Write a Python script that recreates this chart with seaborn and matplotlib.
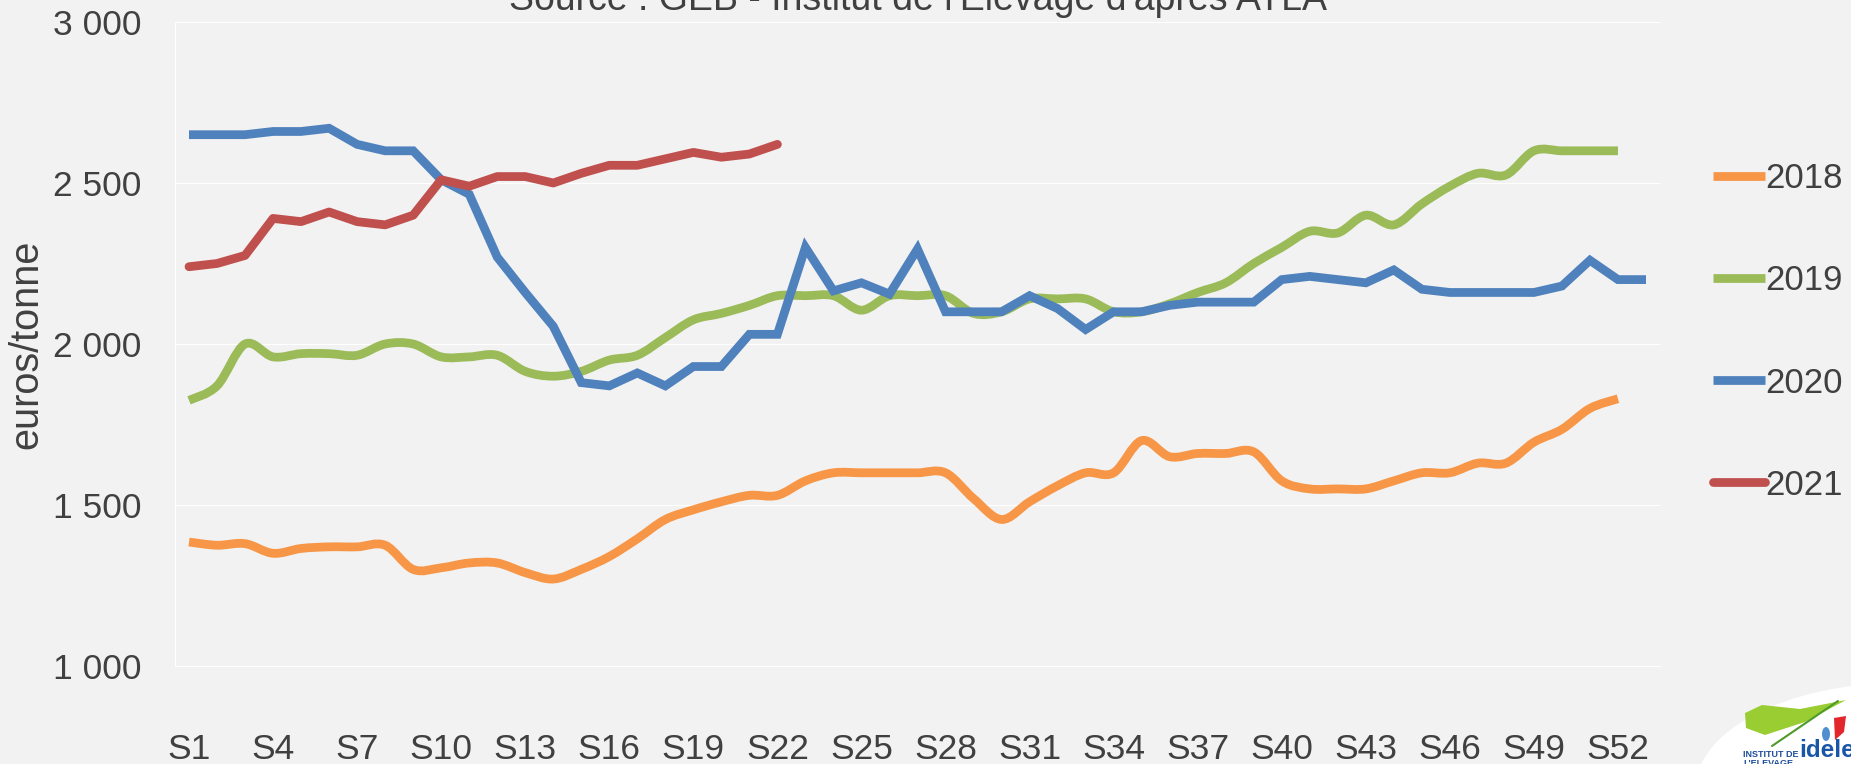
import numpy as np
import matplotlib
matplotlib.use("Agg")
import matplotlib.pyplot as plt
import seaborn as sns

from matplotlib.path import Path
from matplotlib.patches import PathPatch, Ellipse, Polygon
from matplotlib.lines import Line2D


# Weekly prices (euros/tonne)
weeks = [f"S{i}" for i in range(1, 54)]

prix_2018 = [1385, 1375, 1380, 1350, 1365, 1370, 1370, 1375, 1300, 1305,
             1320, 1320, 1290, 1270, 1300, 1340, 1395, 1455, 1485, 1510,
             1530, 1530, 1575, 1600, 1600, 1600, 1600, 1600, 1520, 1455,
             1510, 1560, 1600, 1600, 1700, 1650, 1660, 1660, 1665, 1575,
             1550, 1550, 1550, 1575, 1600, 1600, 1630, 1630, 1695, 1735,
             1800, 1830]

prix_2019 = [1825, 1870, 2000, 1960, 1970, 1970, 1965, 2000, 2000, 1960,
             1960, 1965, 1915, 1900, 1915, 1950, 1965, 2020, 2075, 2095,
             2120, 2150, 2150, 2150, 2105, 2150, 2150, 2150, 2095, 2100,
             2140, 2140, 2140, 2100, 2100, 2125, 2160, 2190, 2250, 2300,
             2350, 2345, 2400, 2370, 2435, 2490, 2530, 2525, 2600, 2600,
             2600, 2600]

prix_2020 = [2650, 2650, 2650, 2660, 2660, 2670, 2620, 2600, 2600, 2510,
             2465, 2270, 2160, 2055, 1880, 1870, 1910, 1870, 1930, 1930,
             2030, 2030, 2300, 2165, 2190, 2155, 2295, 2100, 2100, 2100,
             2150, 2110, 2045, 2100, 2100, 2120, 2130, 2130, 2130, 2200,
             2210, 2200, 2190, 2230, 2170, 2160, 2160, 2160, 2160, 2180,
             2260, 2200, 2200]

prix_2021 = [2240, 2250, 2275, 2390, 2380, 2410, 2380, 2370, 2400, 2510,
             2490, 2520, 2520, 2500, 2530, 2555, 2555, 2575, 2595, 2580,
             2590, 2620]

years = ["2018", "2019", "2020", "2021"]
y_ticks = [1000, 1500, 2000, 2500, 3000]

# Excel 2007 palette
colors = {"2018": "#F79646", "2019": "#9BBB59", "2020": "#4F81BD", "2021": "#C0504D"}
BG = "#F2F2F2"
TXT = "#404040"
W, H = 1851, 764


def px(x, y):
    """ Pixel position (from top left) to figure fraction """
    return x / W, 1 - y / H


def smooth_path(values):
    """ Bezier path through every point, like Excel smoothed lines """
    pts = np.column_stack([np.arange(len(values)), values]).astype(float)
    verts, codes = [pts[0]], [Path.MOVETO]
    n = len(pts)
    for i in range(n - 1):
        p0, p1 = pts[max(i - 1, 0)], pts[i]
        p2, p3 = pts[i + 1], pts[min(i + 2, n - 1)]
        verts += [p1 + (p2 - p0) / 6, p2 - (p3 - p1) / 6, p2]
        codes += [Path.CURVE4] * 3
    return Path(verts, codes)


sns.set_theme(style="white")
plt.rcParams["font.family"] = ["Liberation Sans", "DejaVu Sans"]

fig = plt.figure(figsize=(W / 100, H / 100), dpi=100, facecolor=BG)
ax = fig.add_axes([175 / W, 1 - 666 / H, 1485 / W, 644 / H])
ax.set_facecolor(BG)

lw = 6.3

# Smoothed series (2018, 2019)
for year, values in (("2018", prix_2018), ("2019", prix_2019)):
    ax.add_patch(PathPatch(smooth_path(values), fill=False, edgecolor=colors[year],
                           lw=lw, capstyle="butt", joinstyle="round", zorder=3))

# Straight series (2020, 2021)
sns.lineplot(x=np.arange(len(prix_2020)), y=prix_2020, ax=ax, color=colors["2020"],
             lw=lw, solid_capstyle="butt", solid_joinstyle="miter", zorder=4)
sns.lineplot(x=np.arange(len(prix_2021)), y=prix_2021, ax=ax, color=colors["2021"],
             lw=lw, solid_capstyle="round", solid_joinstyle="round", zorder=5)

# Axes
ax.set_xlim(-0.5, len(weeks) - 0.5)
ax.set_ylim(y_ticks[0], y_ticks[-1])
ax.set_xticks(range(0, 52, 3))
ax.set_xticklabels(weeks[0:52:3])
ax.set_xticks(np.arange(-0.5, len(weeks), 1), minor=True)
ax.set_yticks(y_ticks)
ax.set_yticklabels([f"{v:,}".replace(",", " ") for v in y_ticks])

ax.tick_params(axis="x", which="major", length=0, pad=48, labelsize=25.5, labelcolor=TXT)
ax.tick_params(axis="x", which="minor", length=8, width=0.8, color="white", direction="out")
ax.tick_params(axis="y", length=0, pad=24, labelsize=25.5, labelcolor=TXT)

ax.yaxis.grid(True, color="white", lw=0.8)
ax.xaxis.grid(False)
for side in ("top", "right"):
    ax.spines[side].set_visible(False)
for side in ("left", "bottom"):
    ax.spines[side].set_color("white")
    ax.spines[side].set_linewidth(0.8)

ax.set_xlabel("")
ax.set_ylabel("euros/tonne", fontsize=28.5, color=TXT)
ax.yaxis.set_label_coords(-0.087, 0.5)

# Title (cut at the top edge in the original)
fig.text(*px(918, 10), "Source : GEB - Institut de l'Elevage d'après ATLA",
         ha="center", va="baseline", fontsize=27, color=TXT)

# Legend
handles = [Line2D([], [], color=colors[y], lw=lw,
                  solid_capstyle="round" if y == "2021" else "butt") for y in years]
fig.legend(handles, years, loc="center left", bbox_to_anchor=px(1713, 332),
           frameon=False, fontsize=25, labelcolor=TXT, handlelength=1.5,
           handletextpad=0, labelspacing=1.99, borderpad=0, borderaxespad=0)

# Logo corner
fig.add_artist(Ellipse(px(1900, 790), 410 / W, 214 / H, transform=fig.transFigure,
                       facecolor="white", edgecolor="none"))
swoosh = [px(1745, 713), px(1762, 705), px(1800, 709), px(1846, 700),
          px(1805, 722), px(1765, 735), px(1746, 728)]
fig.add_artist(Polygon(swoosh, closed=True, transform=fig.transFigure,
                       facecolor="#9ACD32", edgecolor="none"))
fig.add_artist(Line2D([1772 / W, 1838 / W], [1 - 746 / H, 1 - 701 / H],
                      transform=fig.transFigure, color="#4E9A2A", lw=1.5))
fig.add_artist(Ellipse(px(1826, 734), 8 / W, 14 / H, transform=fig.transFigure,
                       facecolor="#4F8FD0", edgecolor="none"))
fig.add_artist(Polygon([px(1834, 718), px(1846, 716), px(1844, 732), px(1835, 740)],
                       closed=True, transform=fig.transFigure,
                       facecolor="#E2262B", edgecolor="none"))
fig.text(*px(1743, 757), "INSTITUT DE", ha="left", va="baseline",
         fontsize=6.5, fontweight="bold", color="#1F4E9C")
fig.text(*px(1743, 766), "L'ELEVAGE", ha="left", va="baseline",
         fontsize=6.5, fontweight="bold", color="#1F4E9C")
fig.text(*px(1799, 739), "idele", ha="left", va="top",
         fontsize=17.5, fontweight="bold", color="#1A56A8")

fig.savefig("out.png", dpi=100, facecolor=BG)
